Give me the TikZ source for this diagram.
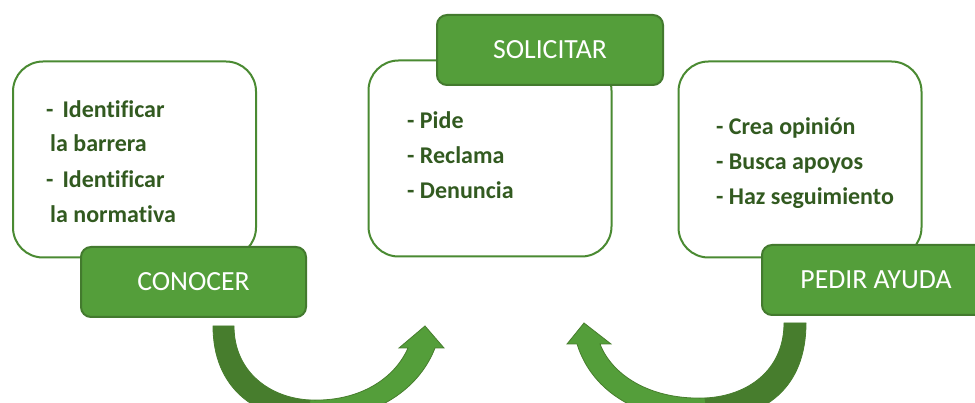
\documentclass[tikz,border=0pt]{standalone}
\usepackage{fontspec}
\setmainfont{Carlito}[Ligatures={NoCommon}]
\definecolor{lblfill}{HTML}{549E3A}
\definecolor{lblborder}{HTML}{437A2E}
\definecolor{boxborder}{HTML}{4A8A32}
\definecolor{txtgreen}{HTML}{325A20}
\definecolor{arrdark}{HTML}{477D2D}
\definecolor{arrlight}{HTML}{549E3A}
\begin{document}
\begin{tikzpicture}[x=1pt,y=-1pt,
  whitebox/.style={draw=boxborder, line width=2pt, fill=white, rounded corners=30pt, minimum width=243pt, minimum height=196pt, inner sep=0pt},
  greenlabel/.style={draw=lblborder, line width=2pt, fill=lblfill, rounded corners=10pt, text=white, font=\fontsize{27.7}{32}\selectfont, inner sep=0pt, minimum height=70pt},
  item/.style={anchor=base west, inner sep=0pt, text=txtgreen, font=\bfseries\fontsize{24}{28}\selectfont},
  darkpart/.style={fill=arrdark, draw=arrdark, line width=0.8pt},
  lightpart/.style={fill=arrlight, draw=arrdark, line width=0.8pt, line join=miter},
]
\useasboundingbox (0,0) rectangle (975,403);

% white boxes
\node[whitebox] (box1) at (134.5,159.5) {};
\node[whitebox] (box2) at (490,158.5) {};
\node[whitebox] (box3) at (800,159.5) {};

% green labels
\node[greenlabel, minimum width=225pt] (conocer) at (193.5,282) {CONOCER};
\node[greenlabel, minimum width=226pt] (solicitar) at (550,50) {SOLICITAR};
\node[greenlabel, minimum width=228pt] (pedir) at (876,280) {PEDIR AYUDA};

% box 1 text
\node[item] (t11) at (46,118) {-\hspace{9pt}Identificar};
\node[item] (t12) at (50,152) {la barrera};
\node[item] (t13) at (46,188) {-\hspace{9pt}Identificar};
\node[item] (t14) at (50,223) {la normativa};

% box 2 text
\node[item] (t21) at (407,129) {- Pide};
\node[item] (t22) at (407,164) {- Reclama};
\node[item] (t23) at (407,199) {- Denuncia};

% box 3 text
\node[item] (t31) at (716,135) {- Crea opinión};
\node[item] (t32) at (716,170) {- Busca apoyos};
\begin{scope}
\clip (700,180) rectangle (930,208);
\node[item] (t33) at (716,205) {- Haz seguimiento};
\end{scope}

% curved arrow 1: CONOCER -> SOLICITAR
\coordinate (a1tailL) at (213,326);
\coordinate (a1tailR) at (234,326);
\coordinate (a1tip) at (425,326);
\fill[darkpart] (a1tailL) -- (a1tailR) .. controls (234,372) and (270,398) .. (310,400)
  -- (307,420) .. controls (255,418) and (213,388) .. (a1tailL) -- cycle;
\filldraw[lightpart] (310,400) .. controls (360,402) and (395,378) .. (408,348) -- (399,348) -- (a1tip)
  -- (444,348) -- (435,348) .. controls (418,392) and (370,422) .. (307,420) -- cycle;

% curved arrow 2: PEDIR AYUDA -> SOLICITAR
\coordinate (a2tailL) at (784,323);
\coordinate (a2tailR) at (806,323);
\coordinate (a2tip) at (584,323);
\fill[darkpart] (a2tailR) -- (a2tailL) .. controls (784,370) and (748,396) .. (705,398)
  -- (708,420) .. controls (765,418) and (806,388) .. (a2tailR) -- cycle;
\filldraw[lightpart] (705,398) .. controls (650,400) and (612,375) .. (600,344) -- (611,344) -- (a2tip)
  -- (567,344) -- (577,344) .. controls (592,392) and (640,422) .. (708,420) -- cycle;
\end{tikzpicture}
\end{document}
